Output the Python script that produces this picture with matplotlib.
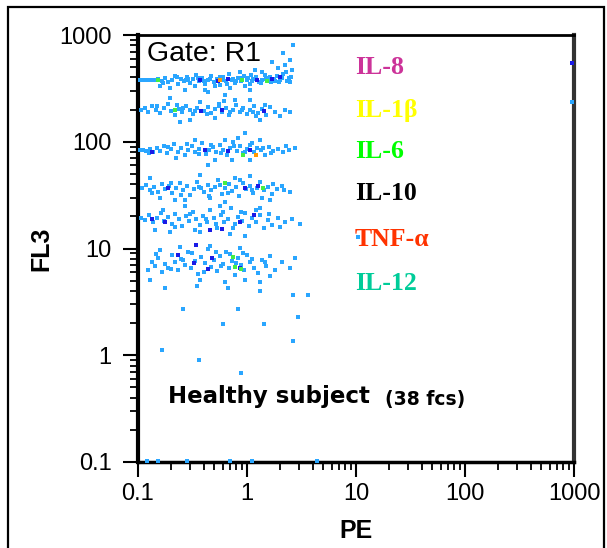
import matplotlib
matplotlib.use("Agg")
import matplotlib.pyplot as plt
from matplotlib.patches import Rectangle
from matplotlib.ticker import LogLocator, NullFormatter, FixedLocator, FixedFormatter

# ---------------- data (PE, FL3) ----------------
band_il8_pe = [0.104,0.111,0.118,0.126,0.134,0.143,0.153,0.166,0.177,0.188,0.205,0.218,0.233,0.248,0.264,0.282,0.300,0.320,0.341,0.363,
               0.387,0.412,0.439,0.468,0.498,0.531,0.565,0.603,0.642,0.684,0.729,0.777,0.828,0.882,0.940,1.00,1.06,1.13,1.21,1.29,
               1.37,1.46,1.56,1.66,1.77,1.88,2.00,2.14,2.28,2.43,2.59,1.92,1.37,0.699,0.412,0.270,0.197,1.06,2.48,0.960,
               0.509,1.18,0.864,0.333,0.159,2.64,2.14,2.48,1.69,2.23,0.745,0.794,1.02,1.11,1.49,1.62,1.80,2.09,0.458,0.355,0.590,0.276,
               0.17,0.23,0.29,0.40,0.56,0.66,0.86,1.35,1.95,2.35,2.55,1.08]
band_il8_fl3 = [379,379,379,379,379,379,387,371,396,363,379,413,348,387,371,405,355,387,422,371,
                396,348,379,413,363,387,340,405,371,431,379,355,396,371,413,379,348,387,405,363,
                379,422,396,363,387,413,379,431,450,396,470,491,450,319,305,305,319,305,363,333,
                333,470,450,333,333,806,678,583,558,523,387,371,396,371,387,405,371,396,387,396,379,379,
                355,400,390,370,400,350,395,355,360,370,400,420]

band_il1_pe = [0.107,0.116,0.124,0.134,0.146,0.159,0.173,0.188,0.201,0.218,0.238,0.253,0.276,0.300,0.320,0.348,0.371,0.403,0.439,0.468,
               0.509,0.554,0.590,0.642,0.684,0.745,0.794,0.864,0.921,1.00,1.06,1.16,1.26,1.37,1.49,1.62,1.80,2.00,2.23,2.48,
               0.509,0.300,0.777,1.06,0.197,0.629,0.439,1.31,0.243,
               0.15,0.26,0.33,0.43,0.55,0.70,0.90,1.14,1.20,1.45,0.62,0.23]
band_il1_fl3 = [198,207,190,216,198,186,207,226,194,178,203,190,216,198,182,207,236,194,211,186,
                203,226,190,207,178,198,221,190,207,182,198,216,186,203,178,211,190,174,198,190,
                167,160,246,246,257,274,292,160,153,
                214,205,195,180,214,188,200,192,176,220,240,222]

band_il6_pe = [0.104,0.111,0.118,0.129,0.137,0.149,0.159,0.173,0.184,0.201,0.214,0.233,0.248,0.270,0.288,0.313,0.333,0.363,0.387,0.421,
               0.448,0.488,0.520,0.565,0.603,0.656,0.699,0.745,0.811,0.864,0.921,1.00,1.06,1.16,1.23,1.34,1.46,1.59,1.73,1.92,
               2.14,2.43,2.76,0.629,0.828,1.31,0.960,0.333,0.223,0.509,1.06,0.729,0.439,
               0.125,0.19,0.28,0.36,0.47,0.58,0.76,0.95,1.12,1.40,1.65,2.3]
band_il6_fl3 = [84.2,84.2,82.4,86.0,80.6,87.9,82.4,91.8,78.9,86.0,95.8,80.6,87.9,75.5,84.2,91.8,80.6,86.0,97.9,77.2,
                84.2,89.8,80.6,93.8,84.2,75.5,87.9,100,82.4,91.8,78.9,86.0,93.8,80.6,87.9,84.2,75.5,89.8,82.4,86.0,
                80.6,84.2,87.9,104,108,104,121,104,70.8,67.8,67.8,67.8,60.8,
                78,90,95,76,94,78,91,80,98,88,78,91]

band_il10_pe = [0.109,0.118,0.129,0.140,0.153,0.166,0.177,0.192,0.205,0.223,0.243,0.259,0.282,0.300,0.327,0.348,0.379,0.403,0.439,0.468,
                0.509,0.542,0.590,0.629,0.684,0.729,0.794,0.846,0.921,0.981,1.06,1.13,1.23,1.31,1.43,1.56,1.69,1.88,2.09,2.48,
                0.159,0.270,0.458,0.777,1.06,0.371,1.62,0.629,0.218,0.129,
                0.135,0.20,0.25,0.36,0.45,0.56,0.67,0.86,1.10,1.36,1.75,2.2]
band_il10_fl3 = [36.9,39.4,35.3,37.7,33.8,40.2,36.1,38.5,33.1,36.9,41.0,35.3,38.5,31.7,36.1,41.9,36.9,33.8,39.4,35.3,
                 37.7,43.8,32.4,36.9,40.2,34.6,37.7,31.0,41.0,36.1,38.5,33.1,36.9,41.9,35.3,37.7,32.4,36.1,38.5,33.8,
                 29.7,28.4,29.7,45.7,47.9,49.0,28.4,27.2,28.4,45.7,
                 33,41,32,38,31,39,33,44,35,30,40,35]

band_tnf_pe = [0.107,0.116,0.126,0.137,0.149,0.163,0.173,0.188,0.205,0.218,0.238,0.253,0.276,0.294,0.320,0.341,0.371,0.395,0.430,0.458,
               0.498,0.531,0.578,0.615,0.670,0.714,0.777,0.828,0.901,0.960,1.04,1.11,1.21,1.31,1.43,1.56,1.69,1.92,2.23,2.59,
               3.06,0.197,0.371,0.699,0.960,0.143,0.565,0.270,1.31,
               0.17,0.22,0.30,0.42,0.60,0.74,0.88,1.2,1.6,0.52,0.33,2.0]
band_tnf_fl3 = [19.3,18.5,20.6,17.7,19.3,21.5,18.1,19.7,17.0,21.1,18.9,16.2,20.2,18.1,22.0,18.9,16.6,20.2,17.7,23.0,
                19.3,15.6,20.6,17.7,18.9,24.0,17.0,19.7,18.1,21.5,16.2,19.3,17.7,20.6,15.6,18.5,16.6,19.3,17.7,18.9,
                17.0,14.3,14.3,13.7,13.1,14.9,25.1,25.1,24.0,
                23,16,21,19,22,15.5,22,23,21,17,15,16]

band_il12_pe = [0.124,0.134,0.143,0.153,0.166,0.177,0.188,0.205,0.218,0.233,0.248,0.270,0.288,0.307,0.333,0.355,0.379,0.412,0.439,0.468,
                0.498,0.531,0.565,0.603,0.642,0.684,0.729,0.777,0.828,0.882,0.940,1.00,1.06,1.16,1.26,1.37,1.49,1.62,1.80,2.09,
                2.48,2.76,0.159,0.371,0.629,0.960,1.31,0.243,0.458,0.864,1.62,0.129,
                0.145,0.20,0.26,0.31,0.40,0.52,0.58,0.70,0.80,0.92,1.12,1.45]
band_il12_fl3 = [6.3,7.5,6.9,8.1,6.0,7.2,6.6,8.7,7.5,6.3,8.0,7.0,9.2,6.6,7.6,5.8,8.3,7.3,9.8,6.7,
                 7.8,6.2,8.5,7.2,9.2,6.6,7.6,5.6,8.1,7.0,6.3,8.7,7.5,6.6,5.9,7.8,6.9,8.5,6.3,7.5,
                 6.6,8.1,9.6,5.1,4.9,5.1,4.9,10.3,10.5,10.1,5.5,5.1,
                 8.8,6.4,7.8,9.0,6.0,9.3,6.9,8.8,7.3,9.1,8.0,7.4]

sparse_pe = [0.177,0.348,0.670,1.31,2.64,3.63,0.259,0.828,2.93,0.603,1.43,2.64,0.166,0.363,0.882,
             0.121,0.153,0.282,0.699,1.11,4.38,960,10.4]
sparse_fl3 = [4.3,4.45,4.3,4.0,3.7,3.7,2.7,2.7,2.3,1.97,1.97,1.35,1.12,0.90,0.68,
              0.102,0.102,0.102,0.102,0.102,0.102,236,12.8]

dense_pe = [0.371,0.670,1.23,1.69,2.00,0.542,0.590,0.379,1.43,0.670,1.06,0.412,0.134,0.960,1.26,0.188,
            0.134,0.177,0.458,0.590,0.864,1.16,0.341,0.233,0.327,0.439,0.478,0.864,960]
dense_fl3 = [379,387,379,387,405,371,198,194,194,82.4,84.2,84.2,80.6,36.9,38.5,36.9,
             18.9,17.7,14.9,15.3,17.7,20.6,10.8,8.7,7.3,6.4,8.1,6.6,547]

peak_pe = [0.153,0.901,1.52,0.218,0.921,0.629,1.40,0.745,0.777,0.882]
peak_fl3 = [379,379,371,198,75.5,41.0,36.9,8.3,6.7,6.4]

hot_pe = [0.565, 1.21]
hot_fl3 = [379, 75.5]

cytokines = ["IL-8", "IL-1β", "IL-6", "IL-10", "TNF-α", "IL-12"]
cyto_colors = ["#cc3399", "#ffff00", "#00ff00", "#000000", "#ff3300", "#00cc99"]

decade_ticks = [0.1, 1, 10, 100, 1000]
decade_labels = ["0.1", "1", "10", "100", "1000"]

# ---------------- figure ----------------
W, H = 607, 548
fig = plt.figure(figsize=(W / 100, H / 100), dpi=100)
fig.patch.set_facecolor("white")
fig.patches.append(Rectangle((8 / W, -0.02), 596 / W, 1 - 7 / H + 0.02, transform=fig.transFigure,
                             fill=False, edgecolor="black", linewidth=1.6))

ax = fig.add_axes([138 / W, 1 - 462 / H, 436 / W, 427 / H])
ax.set_xscale("log")
ax.set_yscale("log")
ax.set_xlim(0.1, 1000)
ax.set_ylim(0.1, 1000)

light = "#2aa6ff"
ms = 10
bands = [(band_il8_pe, band_il8_fl3), (band_il1_pe, band_il1_fl3), (band_il6_pe, band_il6_fl3),
         (band_il10_pe, band_il10_fl3), (band_tnf_pe, band_tnf_fl3), (band_il12_pe, band_il12_fl3),
         (sparse_pe, sparse_fl3)]
for xs, ys in bands:
    ax.scatter(xs, ys, s=ms, marker="s", color=light, linewidths=0, clip_on=False, zorder=3)
ax.scatter(dense_pe, dense_fl3, s=ms, marker="s", color="#1a1ae6", linewidths=0, clip_on=False, zorder=4)
ax.scatter(peak_pe, peak_fl3, s=ms, marker="s", color="#44ee44", linewidths=0, zorder=5)
ax.scatter(hot_pe, hot_fl3, s=ms, marker="s", color="#ff9900", linewidths=0, zorder=5)

# spines
for side in ["left", "bottom", "top"]:
    ax.spines[side].set_color("black")
ax.spines["left"].set_linewidth(3)
ax.spines["bottom"].set_linewidth(2.5)
ax.spines["top"].set_linewidth(2)
ax.spines["right"].set_color("#333333")
ax.spines["right"].set_linewidth(3)

ax.xaxis.set_major_locator(FixedLocator(decade_ticks))
ax.xaxis.set_major_formatter(FixedFormatter(decade_labels))
ax.yaxis.set_major_locator(FixedLocator(decade_ticks))
ax.yaxis.set_major_formatter(FixedFormatter(decade_labels))
ax.xaxis.set_minor_locator(LogLocator(base=10, subs=range(2, 10), numticks=20))
ax.yaxis.set_minor_locator(LogLocator(base=10, subs=range(2, 10), numticks=20))
ax.xaxis.set_minor_formatter(NullFormatter())
ax.yaxis.set_minor_formatter(NullFormatter())
ax.tick_params(which="major", direction="out", length=11, width=1.5, color="black",
               labelsize=17, pad=4)
ax.tick_params(axis="y", which="major", pad=8)
ax.tick_params(which="minor", direction="out", length=6, width=1.3, color="black")
for lab in ax.get_xticklabels() + ax.get_yticklabels():
    lab.set_fontfamily("Liberation Sans")

ax.set_xlabel("PE", fontsize=18, fontweight="bold", family="Liberation Sans", labelpad=10)
ax.set_ylabel("FL3", fontsize=18, fontweight="bold", family="Liberation Sans", labelpad=4)

ax.text(0.02, 0.985, "Gate: R1", transform=ax.transAxes, fontsize=20.5, family="Liberation Sans",
        va="top", ha="left", zorder=6)

ys_txt = [68, 110, 151, 193, 239, 283]
for name, col, py in zip(cytokines, cyto_colors, ys_txt):
    ax.text((355 - 138) / 436, (462 - py) / 427, name, transform=ax.transAxes, color=col,
            fontsize=18.5, fontweight="bold", family="Liberation Serif", va="center", ha="left")

ax.text((168 - 138) / 436, (462 - 397) / 427, "Healthy subject", transform=ax.transAxes,
        fontsize=16.5, fontweight="bold", family="DejaVu Sans", va="center", ha="left")
ax.text((385 - 138) / 436, (462 - 399) / 427, "(38 fcs)", transform=ax.transAxes,
        fontsize=13.5, fontweight="bold", family="DejaVu Sans", va="center", ha="left")

fig.savefig("out.png", dpi=100, facecolor="white")
